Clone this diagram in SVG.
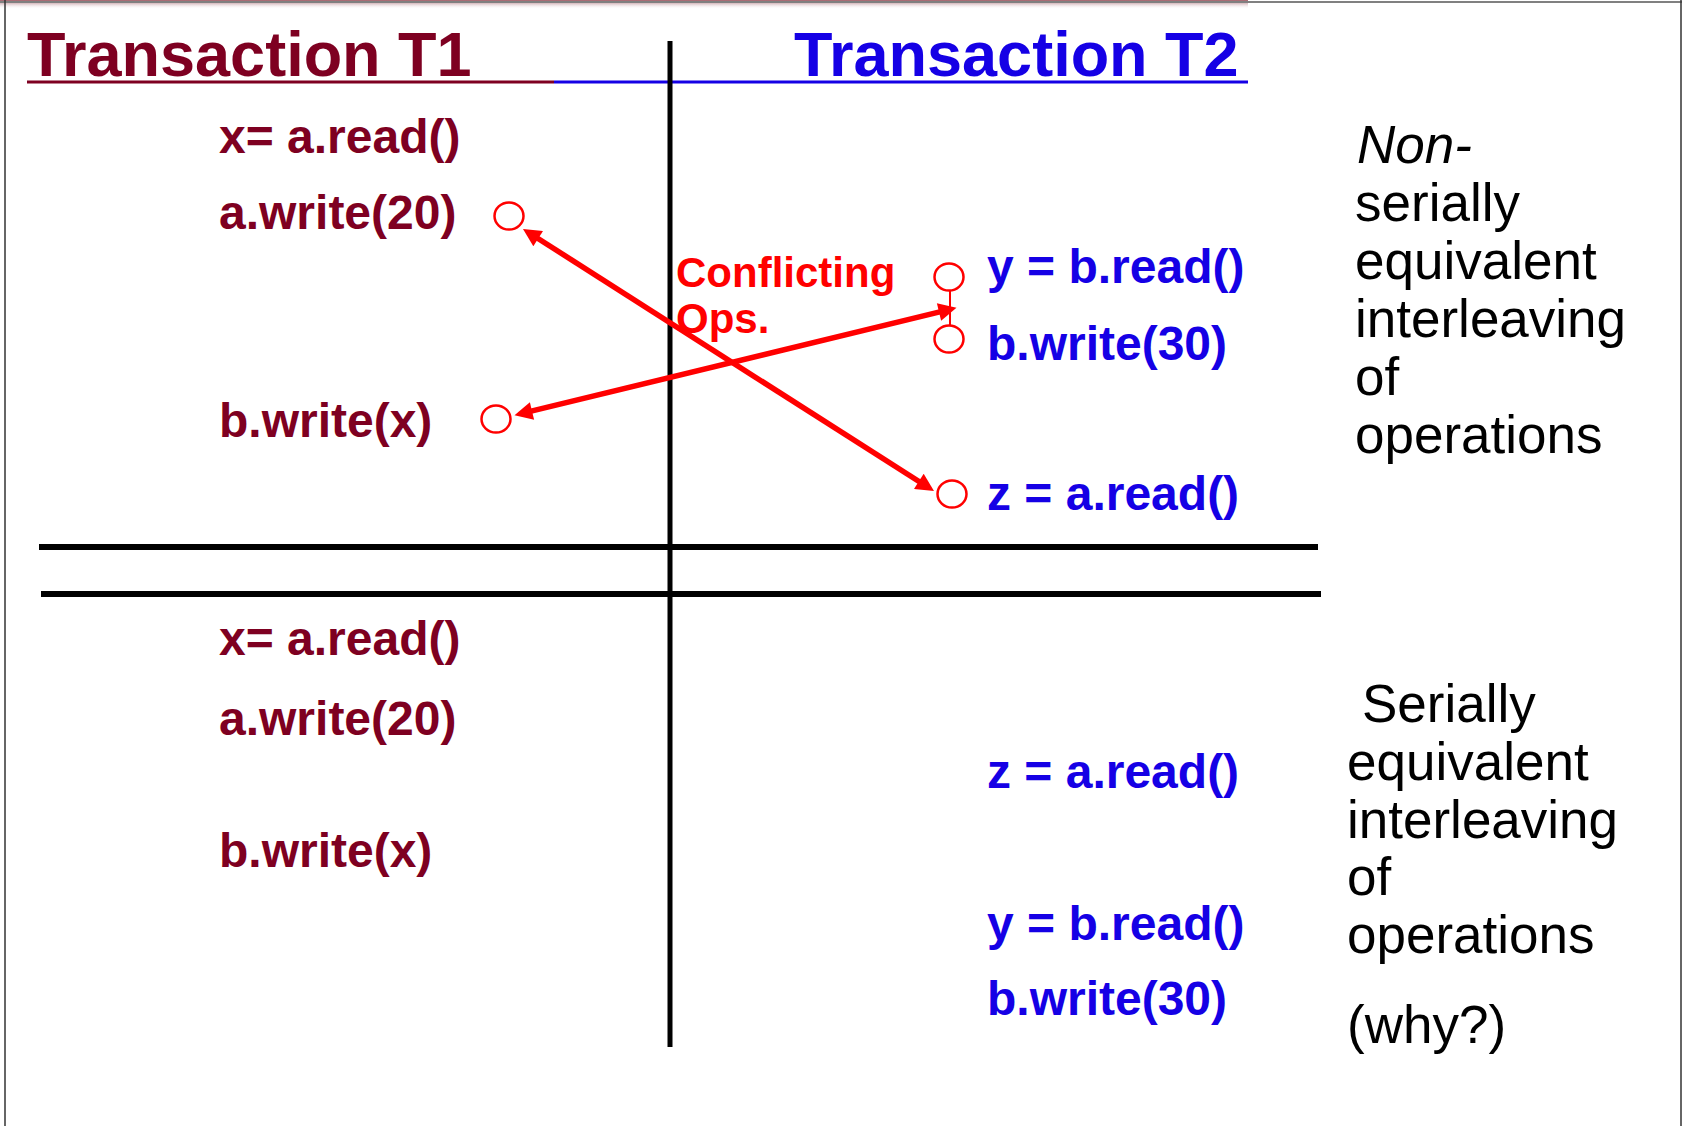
<svg xmlns="http://www.w3.org/2000/svg" width="1687" height="1126" viewBox="0 0 1687 1126">
  <style>
    .t1 { fill: #7e0021; font-family: "Liberation Sans", Arial, sans-serif; font-weight: bold; }
    .t2 { fill: #1500e5; font-family: "Liberation Sans", Arial, sans-serif; font-weight: bold; }
    .title { font-size: 63px; }
    .op { font-size: 48px; }
    .note { fill: #000; font-family: "Liberation Sans", Arial, sans-serif; font-size: 53px; }
    .conf { fill: #ff0000; font-family: "Liberation Sans", Arial, sans-serif; font-weight: bold; font-size: 42px; }
    .rule { stroke: #000; fill: none; }
    .ring { fill: none; stroke: #ff0000; stroke-width: 2.5; }
    .edge { stroke: #ff0000; stroke-width: 5.5; fill: none; }
  </style>
  <defs>
    <linearGradient id="topShade" x1="0" y1="0" x2="0" y2="1">
      <stop offset="0" stop-color="#a05a64"/>
      <stop offset="1" stop-color="#ffffff" stop-opacity="0"/>
    </linearGradient>
    <!-- filled triangular head; tip sits ~14px beyond the line end -->
    <marker id="head" viewBox="0 0 10 10" refX="4" refY="5" markerWidth="24" markerHeight="18" markerUnits="userSpaceOnUse" orient="auto-start-reverse">
      <path d="M0,0 L10,5 L0,10 z" fill="#ff0000"/>
    </marker>
  </defs>

  <!-- page frame -->
  <rect width="1687" height="1126" fill="#ffffff"/>
  <rect x="0" y="0" width="1248" height="9" fill="url(#topShade)"/>
  <line x1="0" y1="2" x2="1682" y2="2" stroke="#808080" stroke-width="2"/>
  <line x1="5" y1="0" x2="5" y2="1126" stroke="#333" stroke-width="1.5"/>
  <line x1="1681" y1="0" x2="1681" y2="1126" stroke="#333" stroke-width="1.5"/>

  <!-- column headings -->
  <g id="title-t1">
    <text class="t1 title" x="27" y="76">Transaction T1</text>
    <line x1="27" y1="82" x2="554" y2="82" stroke="#7e0021" stroke-width="3"/>
  </g>
  <g id="title-t2">
    <line x1="554" y1="82" x2="1248" y2="82" stroke="#1500e5" stroke-width="3"/>
    <text class="t2 title" x="794" y="76">Transaction T2</text>
  </g>

  <!-- grid rules -->
  <g id="rules">
    <line class="rule" x1="670" y1="41" x2="670" y2="1047" stroke-width="5"/>
    <line class="rule" x1="39" y1="547" x2="1318" y2="547" stroke-width="6"/>
    <line class="rule" x1="41" y1="594" x2="1321" y2="594" stroke-width="6"/>
  </g>

  <!-- upper schedule: T1 operations -->
  <g id="u-t1-read-a"><text class="t1 op" x="219" y="153">x= a.read()</text></g>
  <g id="u-t1-write-a">
    <text class="t1 op" x="219" y="229">a.write(20)</text>
    <ellipse class="ring" cx="509" cy="216" rx="14.5" ry="13.5"/>
  </g>
  <g id="u-t1-write-b">
    <text class="t1 op" x="219" y="437">b.write(x)</text>
    <ellipse class="ring" cx="496" cy="419" rx="14.5" ry="13.5"/>
  </g>

  <!-- upper schedule: T2 operations -->
  <g id="u-t2-read-b">
    <text class="t2 op" x="987" y="283">y = b.read()</text>
    <ellipse class="ring" cx="949" cy="277" rx="14.5" ry="13.5"/>
  </g>
  <g id="u-t2-write-b">
    <text class="t2 op" x="987" y="360">b.write(30)</text>
    <ellipse class="ring" cx="949" cy="339" rx="14.5" ry="13.5"/>
  </g>
  <g id="u-t2-read-a">
    <text class="t2 op" x="987" y="510">z = a.read()</text>
    <ellipse class="ring" cx="952" cy="494" rx="14.5" ry="13.5"/>
  </g>

  <g id="conflict-label">
    <text class="conf" x="676" y="287">Conflicting</text>
    <text class="conf" x="676" y="333">Ops.</text>
  </g>

  <!-- conflict connectors -->
  <g id="connectors">
    <line class="edge" x1="532.1" y1="234.7" x2="924.9" y2="485.3" marker-start="url(#head)" marker-end="url(#head)"/>
    <line class="edge" x1="525" y1="412.6" x2="946" y2="310.4" marker-start="url(#head)" marker-end="url(#head)"/>
    <line x1="950" y1="290" x2="950" y2="326" stroke="#ff0000" stroke-width="2"/>
  </g>

  <!-- lower schedule -->
  <g id="l-t1-read-a"><text class="t1 op" x="219" y="655">x= a.read()</text></g>
  <g id="l-t1-write-a"><text class="t1 op" x="219" y="735">a.write(20)</text></g>
  <g id="l-t1-write-b"><text class="t1 op" x="219" y="867">b.write(x)</text></g>
  <g id="l-t2-read-a"><text class="t2 op" x="987" y="788">z = a.read()</text></g>
  <g id="l-t2-read-b"><text class="t2 op" x="987" y="940">y = b.read()</text></g>
  <g id="l-t2-write-b"><text class="t2 op" x="987" y="1015">b.write(30)</text></g>

  <!-- side notes -->
  <g id="note-upper">
    <text class="note" x="1357" y="163" font-style="italic">Non-</text>
    <text class="note" x="1355" y="221">serially</text>
    <text class="note" x="1355" y="279">equivalent</text>
    <text class="note" x="1355" y="337">interleaving</text>
    <text class="note" x="1355" y="395">of</text>
    <text class="note" x="1355" y="453">operations</text>
  </g>
  <g id="note-lower">
    <text class="note" x="1362" y="722">Serially</text>
    <text class="note" x="1347" y="780">equivalent</text>
    <text class="note" x="1347" y="838">interleaving</text>
    <text class="note" x="1347" y="895">of</text>
    <text class="note" x="1347" y="953">operations</text>
    <text class="note" x="1347" y="1043">(why?)</text>
  </g>
</svg>
